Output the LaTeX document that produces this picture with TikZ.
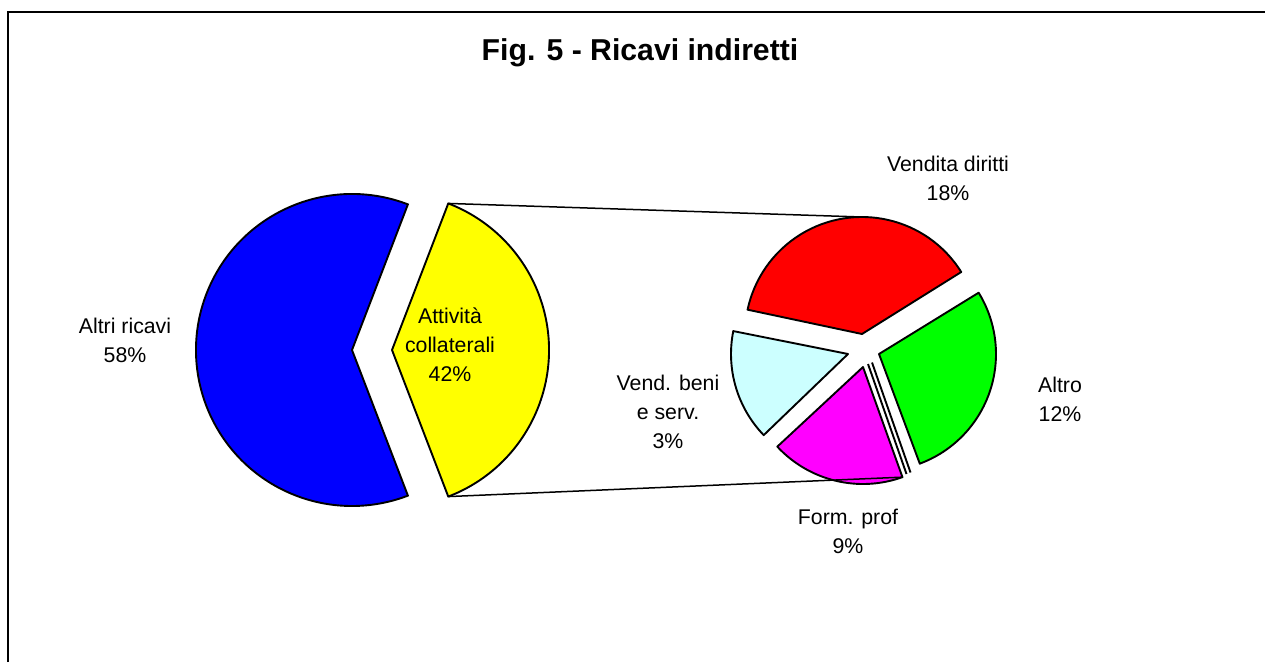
\documentclass[tikz,border=0pt]{standalone}
\usepackage{fontspec}
\setmainfont{Liberation Sans}
\usetikzlibrary{calc}
\definecolor{pblue}{RGB}{0,0,255}
\definecolor{pyellow}{RGB}{255,255,0}
\definecolor{pred}{RGB}{255,0,0}
\definecolor{pgreen}{RGB}{0,255,0}
\definecolor{pmag}{RGB}{255,0,255}
\definecolor{pcyan}{RGB}{204,255,255}
\begin{document}
\begin{tikzpicture}[x=1pt,y=-1pt,
  slice/.style={draw=black,line width=1.9pt,line join=round},
  lbl/.style={font=\fontsize{21.3}{29}\selectfont,align=center,inner sep=0pt},
  conn/.style={draw=black,line width=1.5pt}]
\useasboundingbox (0,0) rectangle (1265,662);
\fill[white] (0,0) rectangle (1265,662);
% frame
\draw[line width=2.4pt] (8,662) -- (8,12) -- (1265,12);
% title
\node[inner sep=0pt,font=\fontsize{30.2}{34}\selectfont\bfseries] (title) at (640,53) {Fig. 5 - Ricavi indiretti};
% left pie
\path[slice,fill=pblue] (352,350) -- +(-69:156) arc[start angle=-69,end angle=-291,radius=156] -- cycle;
\path[slice,fill=pyellow] (392,350) -- +(69:157) arc[start angle=69,end angle=-69,radius=157] -- cycle;
% right pie
\path[slice,fill=pred] (862,334) -- +(-32:117) arc[start angle=-32,end angle=-168,radius=117] -- cycle;
\path[slice,fill=pgreen] (879,354) -- +(69.6:117) arc[start angle=69.6,end angle=-31.6,radius=117] -- cycle;
\path[slice,fill=pmag] (863,367) -- +(137.1:117) arc[start angle=137.1,end angle=70.3,radius=117] -- cycle;
\path[slice,fill=pcyan] (848,354) -- +(-168.7:117) arc[start angle=-168.7,end angle=-223.9,radius=117] -- cycle;
% thin slice (two edges)
\coordinate (s1a) at (868,364);
\coordinate (s1b) at (906.5,474);
\coordinate (s2a) at (872,362.5);
\coordinate (s2b) at (910.5,472.5);
\draw[slice] (s1a) -- (s1b);
\draw[slice] (s2a) -- (s2b);
% connector endpoints
\coordinate (ytop) at ($(392,350)+(-69:157)$);
\coordinate (ybot) at ($(392,350)+(69:157)$);
\coordinate (rtop) at (862,217);
\coordinate (mbot) at ($(863,367)+(70.3:117)$);
\draw[conn] (ytop) -- (rtop);
\draw[conn] (ybot) -- (mbot);
% labels
\node[lbl] (l58) at (125,340) {Altri ricavi\\58\%};
\node[lbl] (l42) at (450,345) {Attività\\collaterali\\42\%};
\node[lbl] (l18) at (948,178) {Vendita diritti\\18\%};
\node[lbl] (l12) at (1060,399) {Altro\\12\%};
\node[lbl] (l9) at (848,531) {Form. prof\\9\%};
\node[lbl] (l3) at (668,412) {Vend. beni\\e serv.\\3\%};
\end{tikzpicture}
\end{document}
